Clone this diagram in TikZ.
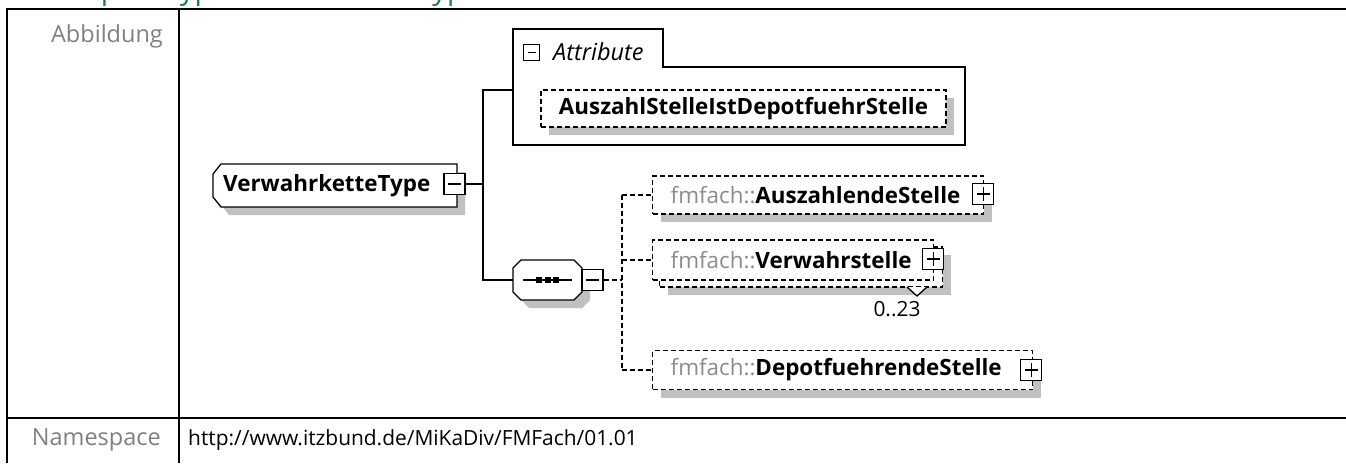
\documentclass[tikz,border=0pt]{standalone}
\usepackage{fontspec}
\setmainfont{Open Sans}
\usetikzlibrary{shadows}

\definecolor{shadegray}{HTML}{C0C0C0}
\definecolor{labelgray}{HTML}{808080}
\definecolor{nsgray}{HTML}{8C8C8C}
\definecolor{headgreen}{HTML}{1B7A5C}

\newcommand{\headfont}{\fontsize{29}{34}\selectfont}
\newcommand{\bodyfont}{\fontsize{20.9}{25}\selectfont}
\newcommand{\labelfont}{\fontsize{23.5}{28}\selectfont}
\newcommand{\namefont}{\fontsize{22.4}{27}\selectfont\bfseries}
\newcommand{\prefix}[1]{{\mdseries\color{nsgray}#1}}

\tikzset{
  rule/.style = {line width=2.5pt},
  solidline/.style = {line width=1.3pt},
  conn/.style = {line width=1.3pt},
  dconn/.style = {line width=1.3pt, dash pattern=on 5pt off 3pt},
  rowlabel/.style = {font=\labelfont, text=labelgray, inner sep=0pt},
  elembox/.style = {draw, line width=1.3pt, dash pattern=on 5pt off 3pt, fill=white,
    inner xsep=18pt, inner ysep=0pt, align=left, font=\namefont},
  shade/.style = {drop shadow={shadow xshift=8pt, shadow yshift=-8pt, fill=shadegray, opacity=1}},
  togglebox/.style = {draw, line width=1.3pt, fill=white, minimum size=21pt, inner sep=0pt,
    path picture={\draw[line width=1.3pt] ([xshift=4pt]path picture bounding box.west)
      -- ([xshift=-4pt]path picture bounding box.east);}},
  plusbox/.style = {togglebox,
    append after command={[line width=1.3pt]
      ([yshift=4pt]\tikzlastnode.south) edge ([yshift=-4pt]\tikzlastnode.north)}}
}

\begin{document}
\begin{tikzpicture}[x=1pt, y=-1pt]
\useasboundingbox (0,0) rectangle (1346,463);
\clip (0,0) rectangle (1346,463);

% heading, cut off by the page
\node[anchor=base west, text=headgreen, font=\headfont, inner sep=0pt] (head) at (38,-1) {Complex Type VerwahrketteType};

% table
\draw[rule] (7,463) -- (7,9) -- (1346,9);
\draw[rule] (179,9) -- (179,463);
\draw[rule] (7,418) -- (1346,418);
\node[rowlabel, anchor=east] (lfig) at (163,36) {Abbildung};
\node[rowlabel, anchor=east] (lns) at (161,440) {Namespace};
\node[font=\bodyfont, anchor=west, inner sep=0pt] (nsval) at (188,440) {http://www.itzbund.de/MiKaDiv/FMFach/01.01};

% complex type
\fill[shadegray] (229,172) -- (465,172) -- (465,215) -- (229,215) -- (221,205) -- (221,182) -- cycle;
\draw[solidline, fill=white] (221,164) -- (457,164) -- (457,207) -- (221,207) -- (213,197) -- (213,174) -- cycle;
\node[font=\namefont, anchor=west, inner sep=0pt] (vtype) at (223,185.5) {VerwahrketteType};
\node[togglebox] (vmin) at (454.5,184) {};

% attributes
\draw[solidline] (513,145) -- (513,29) -- (663,29) -- (663,67) -- (965,67) -- (965,145) -- cycle;
\node[togglebox, minimum size=16pt] (amin) at (531.5,52.5) {};
\node[font=\labelfont\itshape, anchor=west, inner sep=0pt] (atitle) at (553,52) {Attribute};
\node[elembox, shade, minimum width=403pt, minimum height=37pt, align=center] (attr) at (743.5,108.5) {AuszahlStelleIstDepotfuehrStelle};
\coordinate (attrin) at (513,90);

% sequence
\fill[shadegray] (529,268) -- (582,268) -- (590,276) -- (590,300) -- (582,308) -- (529,308) -- (521,300) -- (521,276) -- cycle;
\draw[solidline, fill=white] (521,260) -- (574,260) -- (582,268) -- (582,292) -- (574,300) -- (521,300) -- (513,292) -- (513,268) -- cycle;
\node[minimum width=69pt, minimum height=40pt, inner sep=0pt] (seq) at (547.5,280) {};
\draw[solidline] (523,280) -- (572,280);
\foreach \dx in {539,547.5,556}
  \fill (\dx-3,277) rectangle (\dx+3,283);
\node[togglebox] (smin) at (592.5,280) {};

% children
\node[elembox, shade, anchor=west, minimum height=38pt, text width=295pt] (ausz) at (652,195) {\prefix{fmfach::}AuszahlendeStelle};
\node[plusbox] (auszplus) at (983,194) {};

\node[elembox, shade, anchor=west, minimum height=40pt, text width=247pt] (vwback) at (659,267) {};
\node[elembox, anchor=west, minimum height=40pt, text width=245pt] (vwahr) at (652,260) {\prefix{fmfach::}Verwahrstelle};
\node[plusbox] (vwplus) at (933,259) {};
\draw[solidline, fill=white] (907,287) -- (917,296) -- (927,287);
\node[font=\bodyfont, inner sep=0pt] (vwcard) at (897,309) {0..23};

\node[elembox, shade, anchor=west, minimum height=39pt, text width=344pt] (depot) at (652,370) {\prefix{fmfach::}DepotfuehrendeStelle};
\node[plusbox] (depplus) at (1031,370) {};

% connectors
\coordinate (fork) at (483,184);
\coordinate (split) at (622,280);
\draw[conn] (vmin.east) -- (fork);
\draw[conn] (attrin) -| (fork) |- (seq.west);
\draw[dconn] (smin.east) -- (split);
\draw[dconn] (split |- ausz.west) -- (split |- depot.west);
\draw[dconn] (split |- ausz.west) -- (ausz.west);
\draw[dconn] (split |- vwahr.west) -- (vwahr.west);
\draw[dconn] (split |- depot.west) -- (depot.west);
\end{tikzpicture}
\end{document}
